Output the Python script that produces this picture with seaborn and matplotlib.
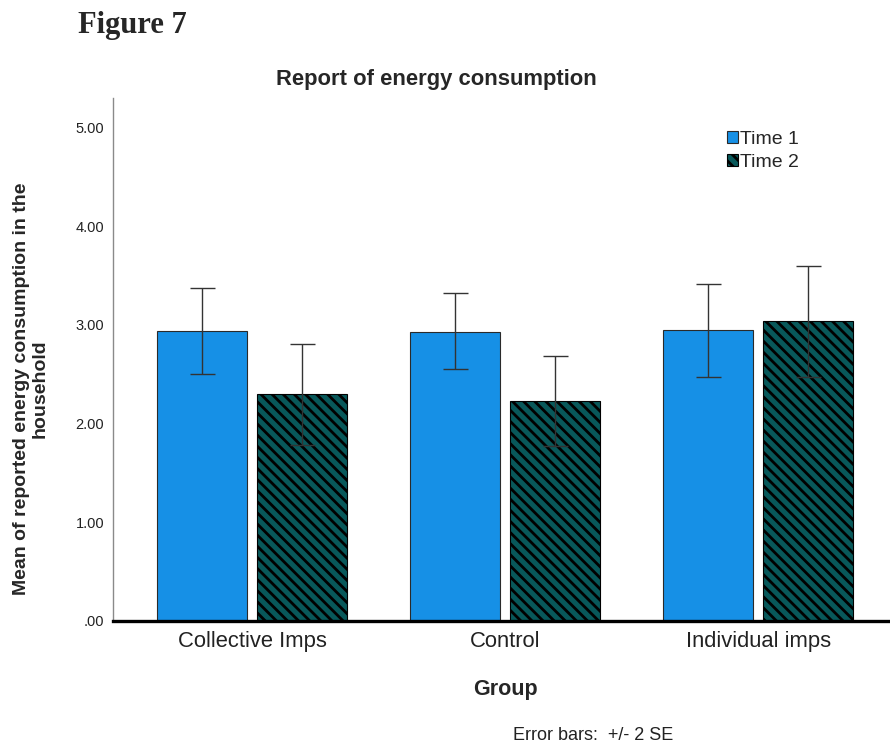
import matplotlib
matplotlib.use("Agg")
import matplotlib.pyplot as plt
from matplotlib.patches import Patch
import numpy as np
import pandas as pd
import seaborn as sns

# ---- data ----
groups = ["Collective Imps", "Control", "Individual imps"]
times = ["Time 1", "Time 2"]
mean_t1 = [2.94, 2.93, 2.95]
mean_t2 = [2.30, 2.23, 3.04]
low_t1 = [2.50, 2.55, 2.47]
high_t1 = [3.37, 3.32, 3.42]
low_t2 = [1.78, 1.77, 2.47]
high_t2 = [2.81, 2.69, 3.60]
ytick_vals = [0, 1, 2, 3, 4, 5]
ytick_labels = [".00", "1.00", "2.00", "3.00", "4.00", "5.00"]

blue = "#1690e6"
teal = "#08585a"
hatch = "\\\\\\"

sns.set_style("white")
plt.rcParams["font.family"] = ["Liberation Sans", "DejaVu Sans"]
plt.rcParams["hatch.linewidth"] = 2.0

df = pd.DataFrame({
    "Group": groups * 2,
    "Time": [times[0]] * 3 + [times[1]] * 3,
    "Mean": mean_t1 + mean_t2,
})

fig = plt.figure(figsize=(8.9, 7.44), dpi=100)
ax = fig.add_axes([112.5 / 890, 1 - 621 / 744, 1 - 112.5 / 890, (621 - 98) / 744])

sns.barplot(data=df, x="Group", y="Mean", hue="Time", order=groups, hue_order=times,
            palette={times[0]: blue, times[1]: teal}, saturation=1,
            errorbar=None, width=0.79, gap=0.1, ax=ax, legend=False)

lows = [low_t1, low_t2]
highs = [high_t1, high_t2]
means = [mean_t1, mean_t2]
bar_containers = list(ax.containers)
for i, cont in enumerate(bar_containers):
    xs = []
    for p in cont.patches:
        if i == 1:
            p.set_hatch(hatch)
            p.set_edgecolor("black")
            p.set_linewidth(0.8)
        else:
            p.set_edgecolor("#2a2a2a")
            p.set_linewidth(0.8)
        xs.append(p.get_x() + p.get_width() / 2)
    m = np.array(means[i])
    yerr = [m - np.array(lows[i]), np.array(highs[i]) - m]
    ax.errorbar(xs, m, yerr=yerr, fmt="none", ecolor="#333333", elinewidth=1.0,
                capsize=9, capthick=1.0, zorder=5)

ax.set_xlim(-0.553, 2.52)
ax.set_ylim(0, 5.30)
ax.set_yticks(ytick_vals)
ax.set_yticklabels(ytick_labels, fontsize=10.5, color="#222222")
ax.tick_params(axis="y", length=0, pad=6)
ax.tick_params(axis="x", length=0, pad=7, labelsize=15.8, labelcolor="#222222")

for s in ["top", "right"]:
    ax.spines[s].set_visible(False)
ax.spines["left"].set_color("#8a8a8a")
ax.spines["left"].set_linewidth(1.0)
ax.spines["bottom"].set_color("black")
ax.spines["bottom"].set_linewidth(2.4)

ax.set_ylabel("")
ax.set_xlabel("Group", fontsize=15.5, fontweight="bold")
ax.xaxis.set_label_coords((505.5 - 112.5) / 777.5, (621 - 690) / 523)
ax.xaxis.label.set_va("center")

fig.text(31 / 890, 1 - 389 / 744, "Mean of reported energy consumption in the\nhousehold",
         rotation=90, ha="center", va="center", multialignment="center",
         fontsize=14, fontweight="bold", linespacing=1.1)

fig.text(436.5 / 890, 1 - 80 / 744, "Report of energy consumption", ha="center", va="center",
         fontsize=15.8, fontweight="bold")

fig.text(78 / 890, 1 - 26 / 744, "Figure 7", ha="left", va="center",
         fontsize=22, fontweight="bold", family=["Liberation Serif", "DejaVu Serif"])

fig.text(513 / 890, 1 - 735 / 744, "Error bars:  +/- 2 SE", ha="left", va="center",
         fontsize=13, color="#222222")

handles = [Patch(facecolor=blue, edgecolor="#2a2a2a", linewidth=0.8),
           Patch(facecolor=teal, edgecolor="black", hatch=hatch, linewidth=0.8)]
fig.legend(handles=handles, labels=times, loc="upper left",
           bbox_to_anchor=(727 / 890, 1 - 131 / 744), frameon=False, fontsize=14,
           handlelength=0.57, handleheight=0.55, handletextpad=0.1, labelspacing=0.3,
           borderpad=0, borderaxespad=0)

fig.savefig("out.png", dpi=100)
